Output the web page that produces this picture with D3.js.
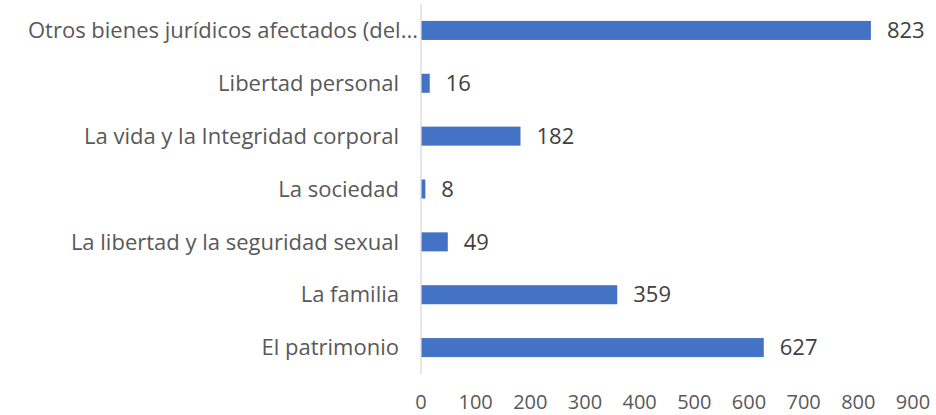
<!DOCTYPE html>
<html>
<head>
<meta charset="utf-8">
<script src="https://cdn.jsdelivr.net/npm/d3@7"></script>
<style>
  body { margin: 0; background: #fff; }
  svg { display: block; font-family: "Open Sans", "Noto Sans", sans-serif; }
</style>
</head>
<body>
<div class="chart"></div>
<script>
var width = 936;
var height = 415;

// categories top to bottom, as shown
var categories = [
  'Otros bienes jurídicos afectados (del...',
  'Libertad personal',
  'La vida y la Integridad corporal',
  'La sociedad',
  'La libertad y la seguridad sexual',
  'La familia',
  'El patrimonio'
];
var values = [823, 16, 182, 8, 49, 359, 627];
var tickValues = [0, 100, 200, 300, 400, 500, 600, 700, 800, 900];

var margin = {top: 4, right: 23, bottom: 41, left: 421};

var svg = d3.select('.chart').append('svg')
  .attr('width', width)
  .attr('height', height);

var x = d3.scaleLinear()
  .domain([0, 900])
  .range([margin.left, width - margin.right]);

var y = d3.scaleBand()
  .domain(categories)
  .range([margin.top, height - margin.bottom])
  .paddingInner(0.64)
  .paddingOuter(0.32);

var data = categories.map(function(c, i) { return {name: c, value: values[i]}; });

// bars
svg.selectAll('rect.bar')
  .data(data)
  .enter().append('rect')
  .attr('class', 'bar')
  .attr('x', x(0))
  .attr('y', function(d) { return y(d.name); })
  .attr('width', function(d) { return x(d.value) - x(0); })
  .attr('height', y.bandwidth())
  .attr('fill', '#4472c4');

// vertical axis line
svg.append('line')
  .attr('x1', x(0)).attr('x2', x(0))
  .attr('y1', margin.top).attr('y2', height - margin.bottom)
  .attr('stroke', '#d9d9d9')
  .attr('stroke-width', 1.3);

// category labels (truncated one runs right up to the axis, like Excel)
svg.selectAll('text.cat')
  .data(data)
  .enter().append('text')
  .attr('class', 'cat')
  .attr('x', function(d) { return /\.\.\.$/.test(d.name) ? x(0) - 3 : x(0) - 22; })
  .attr('y', function(d) { return y(d.name) + y.bandwidth() / 2; })
  .attr('dy', '0.35em')
  .attr('text-anchor', 'end')
  .attr('fill', '#595959')
  .style('font-size', '22px')
  .text(function(d) { return d.name; });

// value labels
svg.selectAll('text.val')
  .data(data)
  .enter().append('text')
  .attr('class', 'val')
  .attr('x', function(d) { return x(d.value) + 16; })
  .attr('y', function(d) { return y(d.name) + y.bandwidth() / 2; })
  .attr('dy', '0.35em')
  .attr('fill', '#404040')
  .style('font-size', '22px')
  .text(function(d) { return d.value; });

// x tick labels
svg.selectAll('text.tick')
  .data(tickValues)
  .enter().append('text')
  .attr('class', 'tick')
  .attr('x', function(d) { return x(d); })
  .attr('y', 409)
  .attr('text-anchor', 'middle')
  .attr('fill', '#595959')
  .style('font-size', '20px')
  .text(function(d) { return d; });
</script>
</body>
</html>
